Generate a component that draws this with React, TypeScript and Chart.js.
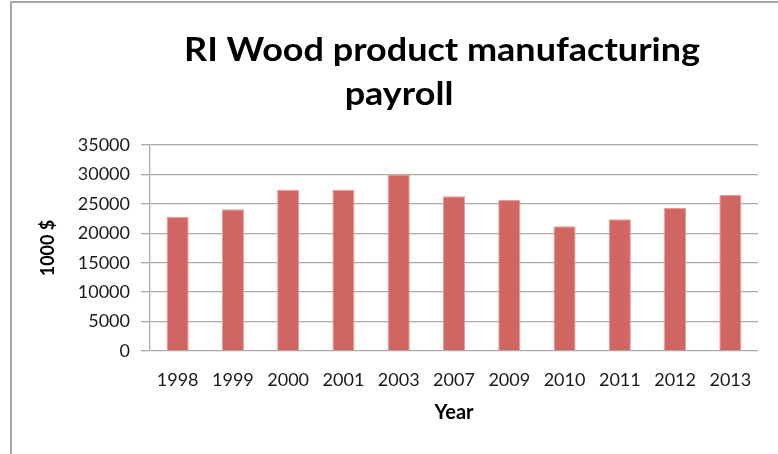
import React, { useEffect, useRef } from "react";
import { Chart, registerables } from "chart.js";

Chart.register(...registerables);

const years = ["1998", "1999", "2000", "2001", "2003", "2007", "2009", "2010", "2011", "2012", "2013"];
const payroll = [22800, 24100, 27400, 27400, 30000, 26300, 25700, 21200, 22400, 24300, 26500];
const titleLines = ["RI Wood product manufacturing", "payroll"];
const yAxisTitle = "1000 $";
const xAxisTitle = "Year";

const FONT = "Lato, 'Open Sans', sans-serif";

const framePlugin = {
  id: "frame",
  beforeDraw(chart: any) {
    const ctx = chart.ctx;
    ctx.save();
    ctx.fillStyle = "#ffffff";
    ctx.fillRect(0, 0, chart.width, chart.height);
    ctx.strokeStyle = "#a6a6a6";
    ctx.lineWidth = 2;
    ctx.beginPath();
    ctx.moveTo(11, chart.height);
    ctx.lineTo(11, 2);
    ctx.lineTo(chart.width, 2);
    ctx.stroke();
    ctx.restore();
  },
  afterDraw(chart: any) {
    const ctx = chart.ctx;
    ctx.save();
    ctx.fillStyle = "#000000";
    ctx.font = `bold 32px ${FONT}`;
    ctx.textAlign = "center";
    ctx.textBaseline = "alphabetic";
    const w = ctx.measureText(titleLines[0]).width;
    const sx = 516 / w;
    ctx.save();
    ctx.translate(442, 61);
    ctx.scale(sx, 1);
    ctx.fillText(titleLines[0], 0, 0);
    ctx.restore();
    ctx.save();
    ctx.translate(399, 105);
    ctx.scale(sx, 1);
    ctx.fillText(titleLines[1], 0, 0);
    ctx.restore();
    ctx.restore();
  },
};

export default function App() {
  const ref = useRef<HTMLCanvasElement>(null);
  useEffect(() => {
    document.body.style.margin = "0";
    const chart = new Chart(ref.current!, {
      type: "bar",
      data: {
        labels: years,
        datasets: [
          {
            data: payroll,
            backgroundColor: "#cf6661",
            borderColor: "#e89a96",
            borderWidth: 1,
            barPercentage: 0.4,
            categoryPercentage: 1.0,
          },
        ],
      },
      options: {
        responsive: false,
        animation: false,
        devicePixelRatio: 1,
        layout: { padding: { top: 145, right: 20, left: 0, bottom: 0 } },
        plugins: {
          legend: { display: false },
          title: { display: false },
          tooltip: { enabled: false },
        },
        scales: {
          x: {
            grid: { display: false, drawTicks: false },
            border: { display: false },
            ticks: {
              padding: 18,
              color: "#1a1a1a",
              font: { family: FONT, size: 18 },
              maxRotation: 0,
              autoSkip: false,
            },
            title: {
              display: true,
              text: xAxisTitle,
              color: "#000000",
              font: { family: FONT, size: 20, weight: "bold" },
              padding: { top: 0, bottom: 29 },
            },
            afterFit(scale: any) {
              scale.height = 103;
            },
          },
          y: {
            min: 0,
            max: 35000,
            grid: {
              color: "#aaaaaa",
              lineWidth: 1.3,
              drawTicks: true,
              tickLength: 9,
            },
            border: { display: true, color: "#aaaaaa", width: 1.3 },
            ticks: {
              stepSize: 5000,
              padding: 11,
              color: "#1a1a1a",
              font: { family: FONT, size: 18 },
              callback: (v: any) => String(v),
            },
            title: {
              display: true,
              text: yAxisTitle,
              color: "#000000",
              font: { family: FONT, size: 18, weight: "bold" },
              padding: { top: 37, bottom: 0 },
            },
            afterFit(scale: any) {
              scale.width = 150;
            },
          },
        },
      },
      plugins: [framePlugin],
    });
    return () => chart.destroy();
  }, []);
  return (
    <div style={{ position: "absolute", left: 0, top: 0, width: 778, height: 454 }}>
      <canvas ref={ref} width={778} height={454} style={{ width: 778, height: 454 }} />
    </div>
  );
}
